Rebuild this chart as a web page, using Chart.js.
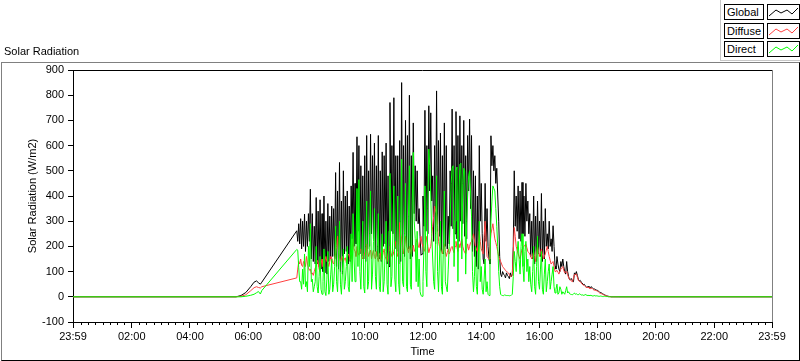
<!DOCTYPE html>
<html lang="en">
<head>
    <meta charset="UTF-8">
    <title>Solar Radiation</title>
    <script src="https://cdn.jsdelivr.net/npm/chart.js"></script>
    <style>
        body {
            margin: 0;
            background: #fff;
            font-family: 'Liberation Sans', Arial, sans-serif;
            font-size: 11px;
            color: #000;
        }
        #wrap { position: relative; width: 800px; height: 361px; overflow: hidden; }
        #frame {
            position: absolute; left: 1px; top: 62px; width: 799px; height: 299px;
            box-sizing: border-box;
            border-left: 1px solid #808080; border-top: 1px solid #808080;
            border-right: 1px solid #000; border-bottom: 1px solid #000;
        }
        canvas { position: absolute; left: 0; top: 0; }
        #title { position: absolute; left: 4px; top: 45px; line-height: 13px; }
        #legend {
            position: absolute; left: 720px; top: 0; width: 80px; height: 61px;
            box-sizing: border-box;
            border-left: 1px solid #c8c8c8; border-bottom: 1px solid #c8c8c8;
        }
        .name, .sample {
            position: absolute; height: 16px; box-sizing: border-box;
            border: 1px solid #000; background: #fff;
        }
        .name { left: 3px; width: 40px; padding-left: 2px; line-height: 14px; }
        .sample { left: 46px; width: 33px; }
    </style>
</head>
<body>
<div id="wrap">
    <div id="frame"></div>
    <canvas id="chart" width="800" height="361"></canvas>
    <div id="title">Solar Radiation</div>
    <div id="legend"></div>
</div>

<script>
    // time in minutes after midnight; the axis runs 23:59 -> 23:59
    const tickTimes = [-1, 120, 240, 360, 480, 600, 720, 840, 960, 1080, 1200, 1320, 1439];
    const tickLabels = ['23:59', '02:00', '04:00', '06:00', '08:00', '10:00', '12:00',
                        '14:00', '16:00', '18:00', '20:00', '22:00', '23:59'];

    const seriesNames = ['Global', 'Diffuse', 'Direct'];
    const seriesColors = ['#000000', '#ff4040', '#00ff00'];

    // sunrise part, before the logging gap
    const morningTimes = [-1, 335, 345, 355, 365, 372, 377, 381, 385, 388];
    const globalMorning = [0, 0, 5, 17, 40, 58, 63, 56, 50, 58];
    const diffuseMorning = [0, 0, 2, 8, 24, 36, 40, 37, 35, 40];
    const directMorning = [0, 0, 0, 2, 6, 10, 16, 21, 11, 25];

    // day part: one sample every 2 minutes from 07:40
    const dayStart = 460;
    const dayStep = 2;
    const globalDay = [
        262, 220, 290, 210, 310, 190, 300, 200, 328, 180, 300, 200, 330, 220, 427, 150, 330, 140, 280, 130,
        394, 130, 340, 120, 385, 110, 330, 100, 400, 95, 300, 90, 370, 140, 320, 150, 360, 160, 350, 150,
        493, 120, 420, 110, 533, 100, 380, 90, 500, 170, 400, 180, 420, 130, 360, 140, 440, 230, 573, 200,
        450, 210, 635, 260, 600, 170, 520, 160, 480, 150, 560, 140, 640, 190, 500, 200, 645, 250, 560, 230,
        610, 180, 520, 160, 640, 150, 500, 140, 575, 200, 560, 210, 610, 130, 480, 120, 771, 260, 600, 250,
        790, 190, 560, 180, 560, 130, 620, 140, 850, 170, 600, 160, 700, 200, 640, 190, 800, 150, 560, 160,
        690, 330, 520, 300, 500, 290, 350, 240, 165, 170, 400, 280, 740, 260, 600, 250, 758, 420, 730, 380,
        480, 220, 600, 210, 817, 260, 620, 240, 650, 180, 560, 170, 690, 200, 600, 190, 320, 210, 500, 280,
        745, 270, 600, 250, 735, 230, 640, 220, 718, 300, 600, 290, 700, 240, 560, 230, 640, 420, 705, 350,
        640, 180, 500, 160, 480, 120, 400, 110, 600, 300, 450, 250, 150, 130, 450, 220, 350, 200, 150, 130,
        639, 520, 600, 500, 560, 450, 510, 400, 300, 160, 90, 80, 100, 90, 85, 75, 95, 85, 80, 72,
        95, 80, 90, 200, 500, 280, 400, 260, 440, 230, 420, 220, 454, 250, 400, 240, 450, 300, 380, 250,
        330, 160, 300, 150, 400, 130, 320, 140, 380, 170, 300, 160, 410, 140, 300, 150, 350, 200, 250, 190,
        300, 200, 230, 180, 282, 200, 123, 110, 160, 130, 110, 100, 140, 120, 150, 120, 100, 90, 140, 100,
        80, 68, 70, 72, 62, 60, 95, 88, 100, 85, 70, 62, 65, 58, 55, 48, 50, 45, 40, 36,
        42, 37, 35, 40, 38, 33, 30, 31, 28, 26, 25, 22, 18, 17, 15, 12, 10, 8, 6, 4,
        3, 2, 1, 1, 0, 0, 0, 0, 0, 0, 0, 0
    ];
    const diffuseDay = [
        75, 110, 140, 130, 150, 125, 120, 140, 135, 120, 160, 130, 115, 105, 110, 90, 95, 85, 100, 115,
        120, 145, 135, 110, 100, 130, 150, 120, 125, 145, 160, 140, 135, 120, 140, 160, 155, 135, 130, 150,
        170, 200, 240, 180, 160, 140, 150, 160, 140, 150, 155, 135, 150, 170, 165, 145, 150, 190, 230, 190,
        180, 160, 200, 175, 165, 185, 190, 160, 150, 170, 175, 150, 210, 180, 160, 175, 185, 150, 170, 185,
        160, 150, 180, 155, 140, 165, 175, 145, 155, 175, 190, 160, 150, 140, 170, 185, 200, 175, 160, 165,
        180, 200, 220, 175, 160, 210, 295, 250, 230, 190, 170, 210, 240, 200, 190, 175, 200, 185, 170, 195,
        205, 180, 190, 215, 230, 205, 195, 220, 240, 210, 200, 180, 190, 215, 240, 200, 175, 190, 200, 240,
        280, 320, 360, 340, 330, 280, 220, 200, 190, 180, 170, 190, 210, 180, 160, 175, 190, 170, 180, 195,
        200, 185, 175, 200, 220, 195, 180, 210, 195, 215, 230, 200, 185, 175, 170, 190, 210, 185, 200, 215,
        220, 235, 250, 225, 200, 190, 180, 215, 260, 220, 190, 180, 170, 240, 300, 230, 160, 155, 150, 200,
        250, 270, 290, 260, 230, 215, 200, 180, 160, 150, 140, 130, 120, 115, 110, 105, 100, 98, 95, 88,
        80, 82, 85, 180, 275, 240, 200, 185, 170, 160, 150, 170, 190, 195, 200, 205, 210, 195, 180, 175,
        170, 160, 150, 165, 180, 160, 140, 170, 200, 180, 160, 175, 190, 170, 150, 160, 170, 185, 200, 180,
        160, 145, 130, 135, 140, 120, 100, 102, 105, 98, 90, 100, 110, 115, 120, 105, 95, 98, 100, 88,
        75, 70, 65, 62, 60, 74, 88, 89, 90, 78, 65, 62, 60, 55, 50, 47, 45, 41, 38, 37,
        38, 35, 32, 33, 34, 30, 27, 26, 25, 24, 22, 18, 15, 13, 12, 10, 8, 6, 5, 3,
        2, 1, 1, 0, 0, 0, 0, 0, 0, 0, 0, 0
    ];
    const directDay = [
        188, 185, 115, 60, 60, 30, 110, 50, 170, 40, 60, 20, 200, 120, 290, 60, 70, 20, 40, 60,
        200, 40, 15, 80, 160, 30, 10, 60, 190, 20, 5, 70, 180, 10, 30, 90, 150, 20, 50, 120,
        280, 60, 20, 150, 300, 50, 10, 100, 190, 30, 60, 120, 200, 40, 20, 130, 250, 60, 330, 150,
        60, 200, 430, 120, 465, 100, 30, 180, 300, 40, 15, 200, 380, 30, 60, 250, 420, 30, 90, 220,
        350, 80, 30, 200, 330, 40, 20, 150, 250, 20, 60, 180, 300, 50, 10, 260, 490, 40, 80, 260,
        440, 70, 20, 220, 400, 50, 10, 300, 546, 60, 40, 250, 450, 40, 20, 320, 520, 50, 30, 380,
        573, 300, 230, 60, 260, 40, 150, 20, 5, 2, 60, 200, 440, 100, 40, 350, 586, 520, 400, 250,
        150, 60, 30, 250, 480, 100, 20, 150, 300, 40, 10, 200, 420, 60, 40, 20, 110, 200, 300, 450,
        510, 520, 120, 300, 500, 515, 60, 400, 526, 530, 150, 450, 510, 500, 90, 300, 400, 480, 500, 420,
        320, 100, 20, 80, 200, 40, 10, 150, 300, 60, 120, 30, 10, 70, 150, 20, 60, 10, 5, 150,
        300, 380, 440, 430, 420, 350, 280, 200, 100, 40, 10, 6, 5, 4, 8, 6, 5, 5, 5, 4,
        5, 6, 10, 80, 180, 140, 100, 180, 220, 150, 90, 200, 250, 120, 60, 180, 220, 100, 150, 60,
        120, 50, 20, 100, 200, 40, 10, 120, 240, 60, 30, 110, 180, 30, 10, 90, 150, 20, 60, 100,
        130, 30, 60, 90, 120, 40, 15, 30, 50, 10, 15, 40, 30, 10, 20, 15, 10, 25, 40, 15,
        20, 12, 10, 9, 8, 12, 15, 10, 12, 9, 8, 12, 10, 7, 8, 6, 6, 9, 8, 5,
        6, 5, 5, 6, 4, 3, 4, 5, 3, 4, 3, 2, 2, 3, 2, 1, 1, 2, 1, 1,
        1, 0, 0, 0, 0, 0, 0, 0, 0, 0, 0, 0
    ];
    const endTime = 1439;

    function toPoints(morning, day) {
        const pts = morning.map((v, i) => ({ x: morningTimes[i], y: v }));
        day.forEach((v, i) => pts.push({ x: dayStart + i * dayStep, y: v }));
        pts.push({ x: endTime, y: 0 });
        return pts;
    }

    const font = { family: "'Liberation Sans', Arial, sans-serif", size: 11 };

    // frame of the plot area + the short 15 minute ticks
    const plotFrame = {
        id: 'plotFrame',
        afterDraw(chart) {
            const { ctx, chartArea: a, scales: { x } } = chart;
            ctx.save();
            ctx.lineWidth = 1;
            ctx.strokeStyle = '#000';
            ctx.beginPath();
            for (let m = 15; m < endTime; m += 15) {
                if (m % 120 === 0) continue;
                const px = Math.round(x.getPixelForValue(m)) + 0.5;
                ctx.moveTo(px, a.bottom);
                ctx.lineTo(px, a.bottom + 3);
            }
            ctx.moveTo(a.left, a.top + 0.5);
            ctx.lineTo(a.right, a.top + 0.5);
            ctx.stroke();
            ctx.strokeStyle = '#808080';
            ctx.beginPath();
            ctx.moveTo(a.right + 0.5, a.top);
            ctx.lineTo(a.right + 0.5, a.bottom);
            ctx.stroke();
            ctx.restore();
        }
    };

    const allSeries = [
        toPoints(globalMorning, globalDay),
        toPoints(diffuseMorning, diffuseDay),
        toPoints(directMorning, directDay)
    ];

    new Chart(document.getElementById('chart'), {
        type: 'line',
        data: {
            datasets: allSeries.map((pts, i) => ({
                label: seriesNames[i],
                data: pts,
                borderColor: seriesColors[i],
                borderWidth: 1,
                pointRadius: 0,
                tension: 0,
                order: 2 - i
            }))
        },
        options: {
            responsive: false,
            animation: false,
            events: [],
            layout: { padding: { left: 0, right: 28, top: 70, bottom: 0 } },
            plugins: { legend: { display: false }, tooltip: { enabled: false } },
            scales: {
                x: {
                    type: 'linear',
                    min: -1,
                    max: endTime,
                    afterBuildTicks: s => { s.ticks = tickTimes.map(v => ({ value: v })); },
                    afterFit: s => { s.height = 39; },
                    ticks: {
                        autoSkip: false,
                        maxRotation: 0,
                        padding: 2,
                        color: '#000',
                        font: font,
                        callback: (v, i) => tickLabels[i]
                    },
                    grid: { drawOnChartArea: false, tickLength: 6, color: '#000' },
                    border: { color: '#000' },
                    title: { display: true, text: 'Time', color: '#000', font: font, padding: { top: 0, bottom: 2 } }
                },
                y: {
                    min: -100,
                    max: 900,
                    afterFit: s => { s.width = 73; },
                    ticks: { stepSize: 100, padding: 4, color: '#000', font: font },
                    grid: { drawOnChartArea: false, tickLength: 5, color: '#000' },
                    border: { color: '#000' },
                    title: {
                        display: true, text: 'Solar Radiation (W/m2)', color: '#000', font: font,
                        padding: { top: 26, bottom: 0 }
                    }
                }
            }
        },
        plugins: [plotFrame]
    });

    // legend boxes on the top right
    const legend = document.getElementById('legend');
    const rowTops = [4, 23, 41];
    seriesNames.forEach((name, i) => {
        const label = document.createElement('div');
        label.className = 'name';
        label.style.top = rowTops[i] + 'px';
        label.textContent = name;
        legend.appendChild(label);
        const sample = document.createElement('div');
        sample.className = 'sample';
        sample.style.top = rowTops[i] + 'px';
        sample.innerHTML = '<svg width="31" height="14"><polyline points="1,11 8,5 13,8 19,5 24,9 30,3" ' +
            'fill="none" stroke="' + seriesColors[i] + '" stroke-width="1"/></svg>';
        legend.appendChild(sample);
    });
</script>
</body>
</html>
